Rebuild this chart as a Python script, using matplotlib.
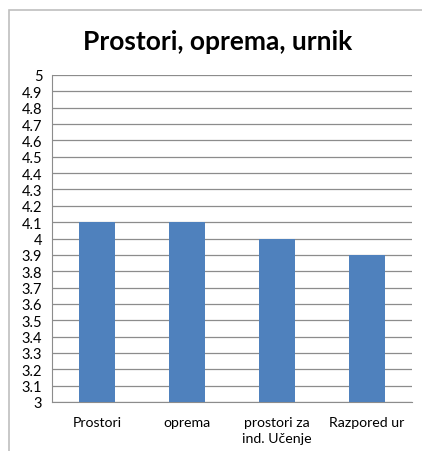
import matplotlib.pyplot as plt
from matplotlib.patches import Rectangle
import numpy as np

plt.rcParams['font.family'] = ['Lato', 'DejaVu Sans']

# Podatki
categories = ["Prostori", "oprema", "prostori za\nind. Učenje", "Razpored ur"]
values = [4.1, 4.1, 4.0, 3.9]
y_ticks = [round(3 + 0.1 * i, 1) for i in range(21)]
y_labels = [f"{t:g}" for t in y_ticks]

fig = plt.figure(figsize=(4.22, 4.52), dpi=100)
W, H = 422, 452

# okvir grafikona (desni in spodnji rob odrezan)
fig.patches.append(Rectangle((9 / W, -0.1), 1.2, 1 - 11 / H + 0.1,
                             transform=fig.transFigure, fill=False,
                             edgecolor='#bfbfbf', linewidth=1.2))

ax = fig.add_axes([52 / W, 1 - 403 / H, 360 / W, (403 - 76) / H])

x = np.arange(len(categories))
base = 3
ax.bar(x, [v - base for v in values], width=0.4, bottom=base, color='#4f81bd', zorder=3)

ax.set_xlim(-0.5, len(categories) - 0.5)
ax.set_ylim(3, 5)
ax.set_yticks(y_ticks)
ax.set_yticklabels(y_labels, fontsize=10.5)
ax.set_xticks(x)
ax.set_xticklabels(categories, fontsize=10.2, linespacing=1.45)
ax.tick_params(axis='both', length=0)
ax.tick_params(axis='y', pad=7)
ax.tick_params(axis='x', pad=10)

ax.grid(axis='y', color='#8c8c8c', linewidth=0.9, zorder=0)
for s in ['top', 'right']:
    ax.spines[s].set_visible(False)
ax.spines['left'].set_color('#8c8c8c')
ax.spines['bottom'].set_color('#8c8c8c')

fig.text(218 / W, 1 - 42 / H, "Prostori, oprema, urnik", ha='center', va='center',
         fontsize=19, fontweight='bold')

fig.savefig("out.png", dpi=100)
